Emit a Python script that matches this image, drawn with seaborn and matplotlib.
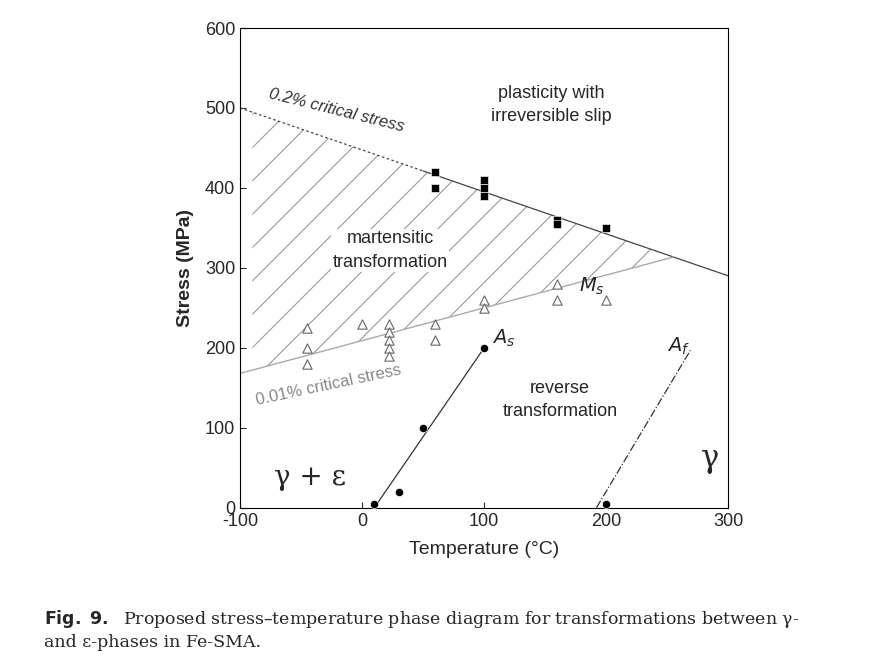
import matplotlib
matplotlib.use("Agg")
import matplotlib.pyplot as plt
import numpy as np
import seaborn as sns

sns.set_style("ticks")
plt.rcParams["font.family"] = ["Liberation Sans", "DejaVu Sans"]
plt.rcParams["axes.unicode_minus"] = False
plt.rcParams["hatch.color"] = "#999999"
plt.rcParams["hatch.linewidth"] = 0.8

sq_t = [60, 60, 100, 100, 100, 160, 160, 200]
sq_s = [420, 400, 410, 400, 390, 360, 355, 350]
tri_t = [-45, -45, -45, 0, 22, 22, 22, 22, 22, 60, 60, 100, 100, 160, 160, 200]
tri_s = [225, 200, 180, 230, 230, 220, 210, 200, 190, 230, 210, 260, 250, 280, 260, 260]
as_t = [10, 30, 50, 100]
as_s = [5, 20, 100, 200]
af_t = [200]
af_s = [5]

fig = plt.figure(figsize=(8.86, 6.68), dpi=100)
ax = fig.add_axes([0.271, 0.240, 0.551, 0.718])

# critical stress lines
up = lambda t: 500 - 0.525 * (t + 100)
low = lambda t: 168 + 0.41 * (t + 100)
ax.plot([-100, 50], up(np.array([-100, 50])), ls=(0, (2, 2)), color="#444444", lw=0.9)
ax.plot([50, 300], up(np.array([50, 300])), color="#444444", lw=0.9)
ax.plot([-100, 255], low(np.array([-100, 255])), color="#aaaaaa", lw=1)
th = np.linspace(-90, 252, 50)
ax.fill_between(th, low(th), up(th), facecolor="none", edgecolor="#999999", hatch="/", lw=0)

ax.plot([10, 100], [0, 200], color="#333333", lw=0.9)
ax.plot([192, 269], [0, 197], color="#333333", lw=0.9, ls="-.")

sns.scatterplot(x=sq_t, y=sq_s, marker="s", color="black", s=30, ax=ax, zorder=5)
sns.scatterplot(x=tri_t, y=tri_s, marker="^", facecolor="white", edgecolor="#666666", s=45, linewidth=0.8, ax=ax, zorder=5)
sns.scatterplot(x=as_t + af_t, y=as_s + af_s, marker="o", color="black", s=35, ax=ax, zorder=5)

ax.set_xlim(-100, 300)
ax.set_ylim(0, 600)
ax.set_xticks([-100, 0, 100, 200, 300])
ax.set_yticks(range(0, 601, 100))
ax.tick_params(direction="in", labelsize=13, length=4)
for sp in ax.spines.values():
    sp.set_visible(True)
    sp.set_color("black")
ax.set_xlabel("Temperature (°C)", fontsize=14, labelpad=8)
ax.set_ylabel("Stress (MPa)", fontsize=14, fontweight="bold", labelpad=8)

ax.text(-78, 470, "0.2% critical stress", rotation=-14, fontsize=12, style="italic", color="#333333")
ax.text(-88, 128, "0.01% critical stress", rotation=12, fontsize=12, color="#888888")
ax.text(155, 504, "plasticity with\nirreversible slip", fontsize=13, ha="center", va="center", linespacing=1.5,
        bbox=dict(facecolor="white", edgecolor="none", pad=1))
ax.text(23, 322, "martensitic\ntransformation", fontsize=13, ha="center", va="center", linespacing=1.5,
        bbox=dict(facecolor="white", edgecolor="none", pad=1))
ax.text(162, 135, "reverse\ntransformation", fontsize=13, ha="center", va="center", linespacing=1.5)
ax.text(-43, 38, "γ + ε", fontsize=20, family="DejaVu Serif", ha="center", va="center")
ax.text(285, 62, "γ", fontsize=22, family="DejaVu Serif", ha="center", va="center")
ax.text(106, 205, "$A_s$", fontsize=14)
ax.text(178, 270, "$M_s$", fontsize=14)
ax.text(250, 195, "$A_f$", fontsize=14)

fig.text(0.05, 0.025, r"$\bf{Fig.\ 9.}$  Proposed stress–temperature phase diagram for transformations between γ-"
         "\nand ε-phases in Fe-SMA.", fontsize=12.5, family="DejaVu Serif", va="bottom", linespacing=1.3)

fig.savefig("out.png", dpi=100)
